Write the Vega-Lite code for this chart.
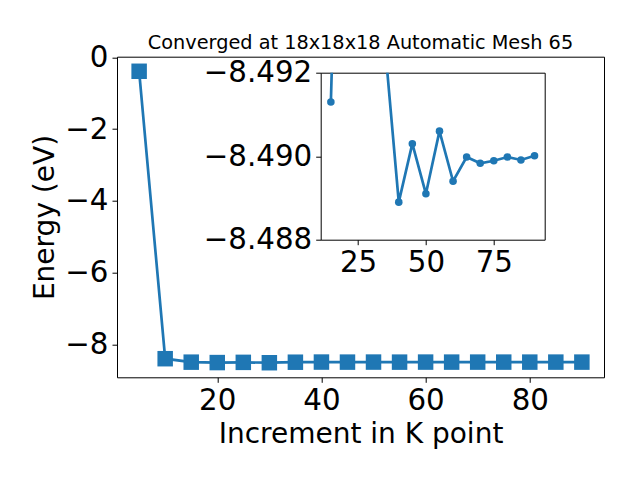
{
  "$schema": "https://vega.github.io/schema/vega-lite/v6.json",
  "width": 224,
  "height": 167,
  "padding": {"left": 320.7, "top": 72.7, "right": 95.3, "bottom": 240.3},
  "autosize": {"type": "none"},
  "config": {
    "font": "DejaVu Sans",
    "view": {"stroke": "black", "strokeWidth": 1},
    "axis": {
      "domain": false, "grid": false,
      "tickColor": "black", "tickSize": 5, "tickWidth": 1,
      "labelColor": "black", "titleColor": "black",
      "labelFontSize": 29.3, "titleFontSize": 28, "titleFontWeight": "normal",
      "labelFlush": false, "labelOverlap": false, "labelPadding": 4, "titlePadding": 5
    },
    "title": {"fontSize": 19.3, "fontWeight": "normal", "color": "black"}
  },
  "title": {"text": "Converged at 18x18x18 Automatic Mesh 65", "anchor": "middle", "frame": "group", "baseline": "alphabetic", "offset": 0, "dx": -72.2, "dy": 25},
  "datasets": {
    "energy": [
      {"k": 5, "E": -0.39},
      {"k": 10, "E": -8.395},
      {"k": 15, "E": -8.4913},
      {"k": 20, "E": -8.503},
      {"k": 25, "E": -8.497},
      {"k": 30, "E": -8.507},
      {"k": 35, "E": -8.4926},
      {"k": 40, "E": -8.4889},
      {"k": 45, "E": -8.4903},
      {"k": 50, "E": -8.4891},
      {"k": 55, "E": -8.4906},
      {"k": 60, "E": -8.4894},
      {"k": 65, "E": -8.48998},
      {"k": 70, "E": -8.48983},
      {"k": 75, "E": -8.48989},
      {"k": 80, "E": -8.48998},
      {"k": 85, "E": -8.48991},
      {"k": 90, "E": -8.49001}
    ]
  },
  "data": {"name": "energy"},
  "resolve": {"scale": {"x": "independent", "y": "independent"}, "axis": {"x": "independent", "y": "independent"}},
  "layer": [
    {
      "mark": {"type": "line", "color": "#1f77b4", "strokeWidth": 2.7},
      "encoding": {
        "x": {"field": "k", "type": "quantitative", "title": "Increment in K point",
              "scale": {"domain": [0.75, 94.25], "range": [-203.7, 283.3], "nice": false, "zero": false},
              "axis": {"values": [20, 40, 60, 80], "orient": "bottom", "offset": 137.6, "domain": true, "domainColor": "black", "domainWidth": 1}},
        "y": {"field": "E", "type": "quantitative", "title": "Energy (eV)",
              "scale": {"domain": [-8.913, 0.016], "range": [304.6, -16], "nice": false, "zero": false},
              "axis": {"values": [0, -2, -4, -6, -8], "orient": "left", "offset": 203.7, "domain": true, "domainColor": "black", "domainWidth": 1}}
      }
    },
    {
      "mark": {"type": "point", "shape": "square", "filled": true, "size": 240, "color": "#1f77b4", "opacity": 1},
      "encoding": {
        "x": {"field": "k", "type": "quantitative", "title": null,
              "scale": {"domain": [0.75, 94.25], "range": [-203.7, 283.3], "nice": false, "zero": false},
              "axis": {"orient": "top", "offset": 16, "domain": true, "domainColor": "black", "domainWidth": 1, "ticks": false, "labels": false}},
        "y": {"field": "E", "type": "quantitative", "title": null,
              "scale": {"domain": [-8.913, 0.016], "range": [304.6, -16], "nice": false, "zero": false},
              "axis": {"orient": "right", "offset": 59.3, "domain": true, "domainColor": "black", "domainWidth": 1, "ticks": false, "labels": false}}
      }
    },
    {
      "transform": [{"filter": "datum.k >= 15"}],
      "mark": {"type": "line", "color": "#1f77b4", "strokeWidth": 2.7, "clip": true},
      "encoding": {
        "x": {"field": "k", "type": "quantitative", "title": null,
              "scale": {"domain": [11.25, 93.75], "nice": false, "zero": false},
              "axis": {"values": [25, 50, 75], "orient": "bottom"}},
        "y": {"field": "E", "type": "quantitative", "title": null,
              "scale": {"domain": [-8.492, -8.488], "reverse": true, "nice": false, "zero": false},
              "axis": {"values": [-8.492, -8.490, -8.488], "format": ".3f", "orient": "left"}}
      }
    },
    {
      "transform": [{"filter": "datum.k >= 15"}],
      "mark": {"type": "point", "shape": "circle", "filled": true, "size": 57, "color": "#1f77b4", "opacity": 1, "clip": true},
      "encoding": {
        "x": {"field": "k", "type": "quantitative", "title": null,
              "scale": {"domain": [11.25, 93.75], "nice": false, "zero": false}, "axis": null},
        "y": {"field": "E", "type": "quantitative", "title": null,
              "scale": {"domain": [-8.492, -8.488], "reverse": true, "nice": false, "zero": false}, "axis": null}
      }
    }
  ]
}
